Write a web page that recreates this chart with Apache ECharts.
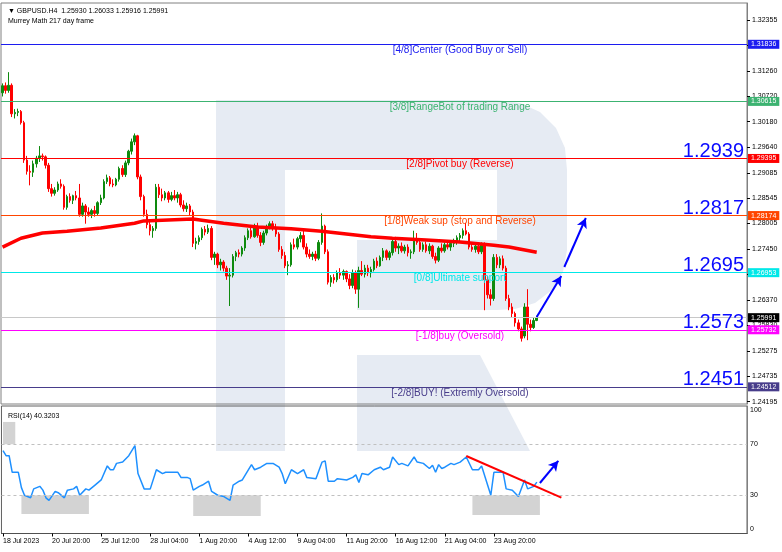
<!DOCTYPE html>
<html><head><meta charset="utf-8">
<script src="https://cdn.jsdelivr.net/npm/echarts@6/dist/echarts.min.js"></script>
<style>html,body{margin:0;padding:0;background:#fff}#c{width:782px;height:552px}</style>
</head><body><div id="c"></div>
<script>
// ---- data ----
const opens = [1.3080,1.3095,1.3085,1.3096,1.3035,1.3038,1.3040,1.3016,1.2936,1.2912,
1.2910,1.2928,1.2940,1.2945,1.2943,1.2925,1.2875,1.2865,1.2872,1.2885,
1.2880,1.2835,1.2858,1.2850,1.2860,1.2855,1.2820,1.2838,1.2825,1.2820,
1.2828,1.2822,1.2845,1.2855,1.2890,1.2898,1.2885,1.2883,1.2895,1.2918,
1.2905,1.2930,1.2955,1.2975,1.2988,1.2900,1.2858,1.2820,1.2798,1.2785,
1.2790,1.2878,1.2862,1.2855,1.2866,1.2852,1.2860,1.2855,1.2862,1.2840,
1.2832,1.2838,1.2825,1.2758,1.2762,1.2770,1.2788,1.2782,1.2790,1.2728,
1.2735,1.2712,1.2718,1.2705,1.2688,1.2690,1.2730,1.2738,1.2735,1.2748,
1.2770,1.2785,1.2772,1.2795,1.2775,1.2760,1.2780,1.2793,1.2800,1.2790,
1.2778,1.2745,1.2732,1.2710,1.2712,1.2755,1.2750,1.2768,1.2775,1.2750,
1.2735,1.2730,1.2735,1.2726,1.2760,1.2795,1.2740,1.2675,1.2685,1.2680,
1.2695,1.2690,1.2698,1.2682,1.2668,1.2695,1.2660,1.2700,1.2692,1.2705,
1.2695,1.2702,1.2720,1.2710,1.2728,1.2742,1.2728,1.2738,1.2762,1.2748,
1.2752,1.2742,1.2750,1.2738,1.2740,1.2765,1.2760,1.2745,1.2755,1.2742,
1.2752,1.2730,1.2722,1.2748,1.2742,1.2755,1.2750,1.2758,1.2762,1.2770,
1.2775,1.2785,1.2778,1.2750,1.2745,1.2752,1.2740,1.2756,1.2680,1.2648,
1.2640,1.2728,1.2712,1.2725,1.2705,1.2640,1.2622,1.2608,1.2588,1.2575,
1.2560,1.2622,1.2585,1.2578,1.25930];
const closes = [1.3095,1.3085,1.3096,1.3035,1.3038,1.3040,1.3016,1.2936,1.2912,1.2910,
1.2928,1.2940,1.2945,1.2943,1.2925,1.2875,1.2865,1.2872,1.2885,1.2880,
1.2835,1.2858,1.2850,1.2860,1.2855,1.2820,1.2838,1.2825,1.2820,1.2828,
1.2822,1.2845,1.2855,1.2890,1.2898,1.2885,1.2883,1.2895,1.2918,1.2905,
1.2930,1.2955,1.2975,1.2988,1.2900,1.2858,1.2820,1.2798,1.2785,1.2790,
1.2878,1.2862,1.2855,1.2866,1.2852,1.2860,1.2855,1.2862,1.2840,1.2832,
1.2838,1.2825,1.2758,1.2762,1.2770,1.2788,1.2782,1.2790,1.2728,1.2735,
1.2712,1.2718,1.2705,1.2688,1.2690,1.2730,1.2738,1.2735,1.2748,1.2770,
1.2785,1.2772,1.2795,1.2775,1.2760,1.2780,1.2793,1.2800,1.2790,1.2778,
1.2745,1.2732,1.2710,1.2712,1.2755,1.2750,1.2768,1.2775,1.2750,1.2735,
1.2730,1.2735,1.2726,1.2760,1.2795,1.2740,1.2675,1.2685,1.2680,1.2695,
1.2690,1.2698,1.2682,1.2668,1.2695,1.2660,1.2700,1.2692,1.2705,1.2695,
1.2702,1.2720,1.2710,1.2728,1.2742,1.2728,1.2738,1.2762,1.2748,1.2752,
1.2742,1.2750,1.2738,1.2740,1.2765,1.2760,1.2745,1.2755,1.2742,1.2752,
1.2730,1.2722,1.2748,1.2742,1.2755,1.2750,1.2758,1.2762,1.2770,1.2775,
1.2785,1.2778,1.2750,1.2745,1.2752,1.2740,1.2756,1.2680,1.2648,1.2640,
1.2728,1.2712,1.2725,1.2705,1.2640,1.2622,1.2608,1.2588,1.2575,1.2555,
1.2622,1.2585,1.2578,1.2593,1.25991];
const lows = [1.3072,1.3078,1.3080,1.3028,1.3025,1.3030,1.3012,1.2930,1.2905,1.2882,
1.2900,1.2920,1.2932,1.2935,1.2918,1.2868,1.2858,1.2860,1.2868,1.2875,
1.2830,1.2830,1.2845,1.2842,1.2850,1.2815,1.2815,1.2800,1.2815,1.2812,
1.2815,1.2818,1.2840,1.2852,1.2885,1.2880,1.2878,1.2880,1.2890,1.2900,
1.2900,1.2925,1.2948,1.2968,1.2895,1.2850,1.2815,1.2790,1.2775,1.2770,
1.2785,1.2855,1.2848,1.2850,1.2845,1.2848,1.2850,1.2845,1.2835,1.2826,
1.2825,1.2818,1.2750,1.2745,1.2755,1.2765,1.2775,1.2778,1.2722,1.2712,
1.2705,1.2700,1.2698,1.2680,1.2624,1.2685,1.2720,1.2728,1.2730,1.2742,
1.2765,1.2768,1.2770,1.2770,1.2752,1.2755,1.2775,1.2788,1.2785,1.2772,
1.2740,1.2725,1.2705,1.2690,1.2708,1.2745,1.2745,1.2760,1.2745,1.2728,
1.2725,1.2722,1.2720,1.2722,1.2755,1.2735,1.2670,1.2665,1.2672,1.2675,
1.2682,1.2680,1.2675,1.2660,1.2662,1.2650,1.2620,1.2688,1.2685,1.2688,
1.2685,1.2698,1.2705,1.2708,1.2720,1.2722,1.2722,1.2732,1.2740,1.2735,
1.2738,1.2736,1.2730,1.2725,1.2735,1.2755,1.2740,1.2740,1.2738,1.2735,
1.2725,1.2715,1.2718,1.2738,1.2738,1.2745,1.2742,1.2750,1.2755,1.2762,
1.2768,1.2775,1.2745,1.2740,1.2738,1.2735,1.2735,1.2615,1.2640,1.2625,
1.2635,1.2705,1.2705,1.2700,1.2635,1.2615,1.2600,1.2580,1.2570,1.2548,
1.2555,1.2551,1.2570,1.2575,1.25916];
const highs = [1.3100,1.3102,1.3124,1.3100,1.3045,1.3046,1.3043,1.3020,1.2945,1.2925,
1.2935,1.2945,1.2966,1.2950,1.2946,1.2930,1.2885,1.2878,1.2890,1.2895,
1.2884,1.2862,1.2865,1.2862,1.2870,1.2885,1.2845,1.2842,1.2835,1.2832,
1.2838,1.2848,1.2862,1.2895,1.2905,1.2902,1.2895,1.2898,1.2922,1.2925,
1.2935,1.2958,1.2982,1.2993,1.2990,1.2905,1.2862,1.2830,1.2810,1.2795,
1.2885,1.2885,1.2875,1.2870,1.2870,1.2868,1.2872,1.2868,1.2866,1.2850,
1.2845,1.2842,1.2830,1.2770,1.2775,1.2792,1.2795,1.2798,1.2795,1.2740,
1.2738,1.2725,1.2722,1.2710,1.2705,1.2735,1.2742,1.2745,1.2752,1.2775,
1.2790,1.2792,1.2800,1.2802,1.2782,1.2785,1.2798,1.2805,1.2806,1.2800,
1.2782,1.2752,1.2740,1.2720,1.2760,1.2768,1.2772,1.2782,1.2785,1.2758,
1.2745,1.2740,1.2742,1.2765,1.2822,1.2798,1.2745,1.2690,1.2692,1.2700,
1.2705,1.2702,1.2700,1.2692,1.2702,1.2700,1.2708,1.2720,1.2712,1.2712,
1.2708,1.2725,1.2728,1.2732,1.2748,1.2745,1.2742,1.2768,1.2772,1.2758,
1.2760,1.2755,1.2756,1.2745,1.2785,1.2780,1.2768,1.2760,1.2762,1.2758,
1.2755,1.2738,1.2752,1.2758,1.2760,1.2765,1.2762,1.2768,1.2775,1.2780,
1.2790,1.2802,1.2782,1.2760,1.2755,1.2758,1.2760,1.2760,1.2688,1.2660,
1.2735,1.2735,1.2730,1.2732,1.2710,1.2648,1.2630,1.2612,1.2595,1.2580,
1.2630,1.2660,1.2595,1.2600,1.26033];

// Moving average (217) read at sample bars
const maIdx = [0,6,13,21,32,43,46,62,72,83,94,104,120,127,138,149,160,165,174];
const maVal = [1.2750,1.2769,1.2780,1.2784,1.2791,1.2801,1.2806,1.2810,1.2801,1.2793,1.2789,1.2784,1.2772,1.2769,1.2765,1.2761,1.2754,1.2750,1.2739];

// RSI(14) read at sample bars
const rsiIdx = [0,1,2,3,5,6,7,9,10,12,13,14,15,17,18,20,21,23,24,25,27,28,30,32,34,35,36,37,39,41,43,44,46,48,50,52,53,55,57,58,60,61,62,64,65,67,68,70,72,74,75,77,78,81,82,84,86,88,90,91,92,94,96,98,99,102,104,105,106,108,109,112,114,115,116,117,119,121,123,124,126,127,129,130,132,134,135,137,139,140,141,142,143,144,146,147,149,151,153,155,156,159,160,161,163,164,166,168,170,171,173,174];
const rsiVal = [65,61,61,48,48,36,30,28,35,37,34,28,26,33,32,28,34,35,37,30,35,34,38,42,53,50,50,55,56,61,69,47,35,35,50,47,48,48,48,44,44,43,34,37,38,41,33,30,29,26,38,41,42,54,50,52,55,55,52,47,39,50,47,50,44,43,56,57,41,41,43,42,44,46,40,47,46,50,52,50,52,60,54,55,53,60,56,55,51,53.5,48,54,51,52,55,54,56,60,50,50,53,30,48,48,48,35,34,29,42,35,37,40.32];

const xTickIdx = [0,16,32,48,64,80,96,112,128,144,160];
const xTickLabels = ['18 Jul 2023','20 Jul 20:00','25 Jul 12:00','28 Jul 04:00','1 Aug 20:00','4 Aug 12:00','9 Aug 04:00','11 Aug 20:00','16 Aug 12:00','21 Aug 04:00','23 Aug 20:00'];
const priceTicks = [1.32355,1.31815,1.31260,1.30720,1.30180,1.29640,1.29085,1.28545,1.28005,1.27450,1.26910,1.26370,1.25830,1.25275,1.24735,1.24195];
const rsiTicks = [0,30,70,100];

const levelValues = [1.31836,1.30615,1.29395,1.28174,1.26953,1.25732,1.24512];
const levelNames = ['[4/8]Center (Good Buy or Sell)','[3/8]RangeBot of trading Range','[2/8]Pivot buy (Reverse)','[1/8]Weak sup (stop and Reverse)','[0/8]Ultimate support','[-1/8]buy (Oversold)','[-2/8]BUY! (Extremly Oversold)'];
const levelColors = ['#1c1cf0','#3cb371','#ff0000','#ff4500','#00e8e8','#ff00ff','#483d8b'];
const bigLabelLevels = [1.29395,1.28174,1.26953,1.25732,1.24512];
const bigLabels = ['1.2939','1.2817','1.2695','1.2573','1.2451'];
const lastPrice = 1.25991;

// ---- chart ----
const FONT = 'Liberation Sans, Arial, sans-serif';
const N = 243;
const cats = Array.from({length: N}, (_, i) => String(i));
const candles = opens.map((o, i) => [o, closes[i], lows[i], highs[i]]);
const ma = maIdx.map((x, i) => [x, maVal[i]]);
const rsi = rsiIdx.map((x, i) => [x, rsiVal[i]]);
const HIDDEN = {width: 0, color: 'rgba(0,0,0,0)'};

const levelLines = levelValues.map((v, i) => ({
  yAxis: v,
  lineStyle: {color: levelColors[i], width: 1.2, type: 'solid'},
  label: {show: true, position: 'end', distance: 1, formatter: v.toFixed(5), color: '#fff',
    backgroundColor: levelColors[i], padding: [1, 3, 1, 3], fontSize: 7, fontFamily: FONT}
}));
const descLines = levelValues.map((v, i) => [
  {coord: [140, v], lineStyle: HIDDEN, label: {show: true, position: 'insideMiddleBottom', distance: 1,
    formatter: levelNames[i], color: levelColors[i], fontSize: 10, fontFamily: FONT}},
  {coord: [158, v]}
]);
const bigLines = bigLabelLevels.map((v, i) => ({
  yAxis: v, lineStyle: HIDDEN,
  label: {show: true, position: 'insideEndTop', distance: [3, -3], formatter: bigLabels[i],
    color: '#0a0aff', fontSize: 20, fontFamily: FONT}
}));
const lastLine = {yAxis: lastPrice, lineStyle: {color: '#c8c8c8', width: 1, type: 'solid'},
  label: {show: true, position: 'end', distance: 1, formatter: lastPrice.toFixed(5), color: '#fff',
    backgroundColor: '#000', padding: [1, 3, 1, 3], fontSize: 7, fontFamily: FONT}};
const arrowMain = [
  [{coord: [174, 1.26005], lineStyle: {color: '#0000ff', width: 2, type: 'solid'}}, {coord: [182, 1.26881], symbol: 'arrow', symbolSize: [8, 10]}],
  [{coord: [183, 1.27074], lineStyle: {color: '#0000ff', width: 2, type: 'solid'}}, {coord: [190, 1.28122], symbol: 'arrow', symbolSize: [8, 10]}]
];

const LOGO = '#e6ebf3';
const option = {
  animation: false,
  backgroundColor: '#ffffff',
  textStyle: {fontFamily: FONT},
  title: [
    {text: '\u25BC GBPUSD.H4  1.25930 1.26033 1.25916 1.25991', left: 3, top: 3,
      textStyle: {fontSize: 7, fontWeight: 'normal', color: '#000', fontFamily: FONT}},
    {text: 'Murrey Math 217 day frame', left: 3, top: 13,
      textStyle: {fontSize: 7, fontWeight: 'normal', color: '#000', fontFamily: FONT}},
    {text: 'RSI(14) 40.3203', left: 3, top: 408,
      textStyle: {fontSize: 7, fontWeight: 'normal', color: '#000', fontFamily: FONT}}
  ],
  graphic: {
    elements: [
      {type: 'rect', z: -100, silent: true, shape: {x: 216, y: 100, width: 69, height: 351}, style: {fill: LOGO}},
      {type: 'polygon', z: -100, silent: true,
        shape: {points: [[285,100],[497,100],[520,103],[540,112],[556,128],[565,148],[567,170],[567,250],[563,272],[552,290],[535,303],[515,309],[497,310],[357,310],[357,240],[497,240],[497,170],[285,170]]},
        style: {fill: LOGO}},
      {type: 'polygon', z: -100, silent: true,
        shape: {points: [[357, 355], [480, 355], [530, 451], [357, 451]]}, style: {fill: LOGO}}
    ]
  },
  grid: [
    {left: 1, top: 3, width: 746, height: 401, show: true, borderColor: '#808080', borderWidth: 1, backgroundColor: 'transparent'},
    {left: 1, top: 406, width: 746, height: 127.5, show: true, borderColor: '#606060', borderWidth: 1, backgroundColor: 'transparent'}
  ],
  xAxis: [
    {type: 'category', gridIndex: 0, data: cats, boundaryGap: true, show: false},
    {type: 'category', gridIndex: 1, data: cats, boundaryGap: true,
      axisLine: {show: true, lineStyle: {color: '#505050'}},
      axisTick: {show: true, alignWithLabel: true, length: 3, lineStyle: {color: '#000'},
        interval: (i) => xTickIdx.includes(i)},
      axisLabel: {show: true, align: 'left', margin: 4, fontSize: 7, color: '#000', fontFamily: FONT,
        interval: (i) => xTickIdx.includes(i),
        formatter: (v, i) => { const k = xTickIdx.indexOf(Number(v)); return k >= 0 ? xTickLabels[k] : ''; }},
      splitLine: {show: false}}
  ],
  yAxis: [
    {type: 'value', gridIndex: 0, position: 'right', min: 1.24145, max: 1.32719, scale: true,
      axisLine: {show: true, lineStyle: {color: '#808080'}},
      axisTick: {show: true, length: 3, customValues: priceTicks, lineStyle: {color: '#000'}},
      axisLabel: {show: true, customValues: priceTicks, margin: 5, fontSize: 7, color: '#000', fontFamily: FONT,
        formatter: (v) => Number(v).toFixed(5)},
      splitLine: {show: false}},
    {type: 'value', gridIndex: 1, position: 'right', min: 0, max: 100,
      axisLine: {show: true, lineStyle: {color: '#808080'}},
      axisTick: {show: false},
      axisLabel: {show: true, customValues: rsiTicks, margin: 3, fontSize: 7, color: '#000', fontFamily: FONT,
        formatter: (v) => v === 100 ? '{t|100}' : (v === 0 ? '{b|0}' : String(v)),
        rich: {t: {padding: [8, 0, 0, 0], fontSize: 7}, b: {padding: [0, 0, 9, 0], fontSize: 7}}},
      splitLine: {show: false}}
  ],
  series: [
    {type: 'candlestick', name: 'GBPUSD', xAxisIndex: 0, yAxisIndex: 0, data: candles,
      barWidth: 2, z: 3,
      itemStyle: {color: '#0e8a0e', color0: '#ff0000', borderColor: '#0e8a0e', borderColor0: '#ff0000', borderWidth: 1}
    },
    {type: 'line', name: 'MA217', xAxisIndex: 0, yAxisIndex: 0, data: ma, showSymbol: false, smooth: false,
      lineStyle: {color: '#ff0000', width: 3.5}, z: 4,
      markLine: {silent: true, symbol: ['none', 'none'], animation: false, precision: 6, label: {show: false},
        data: [...levelLines, lastLine, ...descLines, ...bigLines, ...arrowMain]}
    },
    {type: 'line', name: 'RSI', xAxisIndex: 1, yAxisIndex: 1, data: rsi, showSymbol: false,
      lineStyle: {color: '#1e90ff', width: 1.5}, z: 4,
      markArea: {silent: true, itemStyle: {color: '#d3d3d3'},
        data: [
          [{coord: [0, 87.5]}, {coord: [4, 70]}],
          [{coord: [6, 30]}, {coord: [28, 15.3]}],
          [{coord: [62, 30]}, {coord: [84, 13.8]}],
          [{coord: [153, 30]}, {coord: [175, 14.5]}]
        ]},
      markLine: {silent: true, symbol: ['none', 'none'], animation: false, precision: 4, label: {show: false},
        data: [
          {yAxis: 70, lineStyle: {color: '#c0c0c0', type: [3, 3], width: 1}},
          {yAxis: 30, lineStyle: {color: '#c0c0c0', type: [3, 3], width: 1}},
          [{coord: [151, 60.8], lineStyle: {color: '#ff0000', width: 2, type: 'solid'}}, {coord: [182, 28.2]}],
          [{coord: [175, 39.6], lineStyle: {color: '#0000ff', width: 2, type: 'solid'}}, {coord: [181, 57], symbol: 'arrow', symbolSize: [8, 10]}]
        ]}
    }
  ]
};
const chart = echarts.init(document.getElementById('c'));
chart.setOption(option);
</script>
</body></html>
